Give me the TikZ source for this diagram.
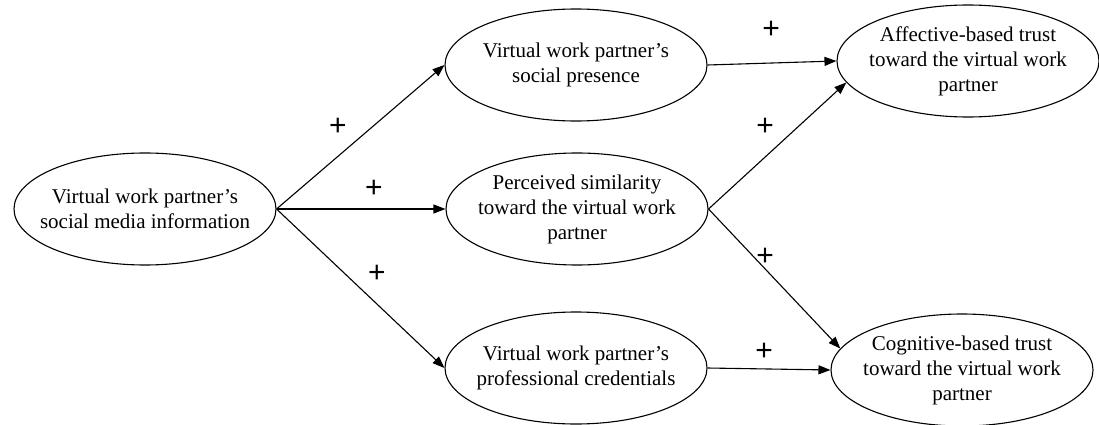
\documentclass[tikz,border=0pt]{standalone}
\usepackage{fontspec}
\setmainfont{Liberation Serif}
\newfontfamily\plusfont{Liberation Sans}
\usetikzlibrary{arrows.meta,positioning,shapes.geometric}

\tikzset{
  construct/.style={ellipse, draw, line width=1.1pt, minimum width=262pt,
    minimum height=112pt, inner xsep=-40pt, inner ysep=-40pt, align=center,
    font=\fontsize{21}{25}\selectfont},
  path/.style={line width=1.1pt, -{Triangle[length=12pt,width=9pt]}},
  sign/.style={font=\plusfont\fontsize{30}{30}\selectfont, inner sep=0pt}
}

\begin{document}
\begin{tikzpicture}[x=1pt, y=-1pt]
    \useasboundingbox (0,0) rectangle (1099,425);
    % Constructs
    \node[construct] (smi) at (145,209) {Virtual work partner's\\social media information};
    \node[construct] (presence) at (576,65) {Virtual work partner's\\social presence};
    \node[construct] (similarity) at (577,209) {Perceived similarity\\toward the virtual work\\partner};
    \node[construct] (credentials) at (576,368) {Virtual work partner's\\professional credentials};
    \node[construct] (affective) at (968,61) {Affective-based trust\\toward the virtual work\\partner};
    \node[construct] (cognitive) at (962,370) {Cognitive-based trust\\toward the virtual work\\partner};
    % Paths
    \draw[path] (smi.east) -- (presence.west);
    \draw[path] (smi.east) -- (similarity.west);
    \draw[path] (smi.east) -- (credentials.west);
    \draw[path] (presence.east) -- (affective.west);
    \draw[path] (similarity.east) -- (affective.190);
    \draw[path] (similarity.east) -- (cognitive.170);
    \draw[path] (credentials.east) -- (cognitive.west);
    % Signs
    \node[sign] (s1) at (338,127) {+};
    \node[sign] (s2) at (374,189) {+};
    \node[sign] (s3) at (377,274) {+};
    \node[sign] (s4) at (771,30) {+};
    \node[sign] (s5) at (765,127) {+};
    \node[sign] (s6) at (765,257) {+};
    \node[sign] (s7) at (764,352) {+};
\end{tikzpicture}
\end{document}
